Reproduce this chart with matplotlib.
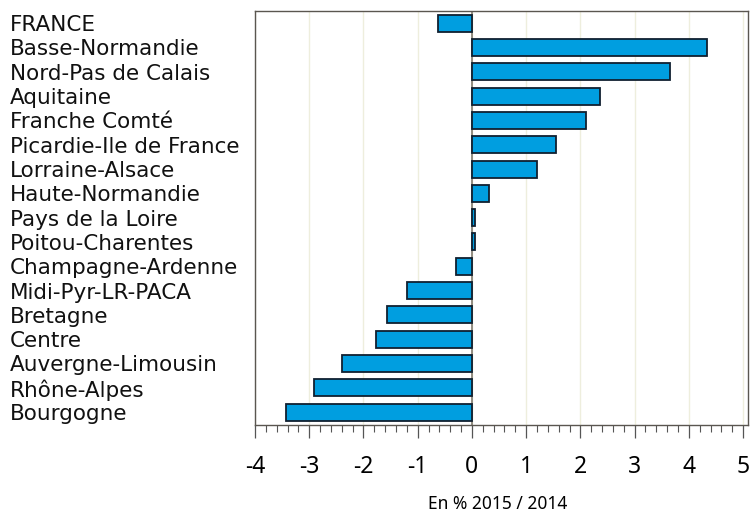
import matplotlib
matplotlib.use('Agg')
import matplotlib.pyplot as plt
import matplotlib.transforms as mtransforms
from matplotlib.ticker import MultipleLocator

plt.rcParams['font.family'] = ['Noto Sans', 'DejaVu Sans']

regions = ['FRANCE', 'Basse-Normandie', 'Nord-Pas de Calais', 'Aquitaine',
           'Franche Comté', 'Picardie-Ile de France', 'Lorraine-Alsace',
           'Haute-Normandie', 'Pays de la Loire', 'Poitou-Charentes',
           'Champagne-Ardenne', 'Midi-Pyr-LR-PACA', 'Bretagne', 'Centre',
           'Auvergne-Limousin', 'Rhône-Alpes', 'Bourgogne']
values = [-0.62, 4.33, 3.65, 2.37, 2.10, 1.55, 1.20, 0.31, 0.05, 0.05,
          -0.29, -1.20, -1.56, -1.76, -2.40, -2.91, -3.42]
xticks = [-4, -3, -2, -1, 0, 1, 2, 3, 4, 5]

fig = plt.figure(figsize=(7.5, 5.17), dpi=100)
ax = fig.add_axes([0.34, 0.178, 0.9973 - 0.34, 0.9787 - 0.178])

pos = list(range(len(regions)))
for x in xticks:
    ax.axvline(x, color='#eeeedd', lw=1, zorder=0)
ax.axvline(0, color='#8a8478', lw=1.3, zorder=1)
ax.barh(pos, values, height=0.7, color='#009ee0', edgecolor='#102030',
        linewidth=1.3, zorder=2)

ax.set_xlim(-4, 5.09)
ax.set_ylim(len(regions) - 0.47, -0.5)
ax.set_xticks(xticks)
ax.xaxis.set_minor_locator(MultipleLocator(0.2))
ax.set_xticklabels([str(x) for x in xticks], fontsize=16.5)
ax.tick_params(axis='x', which='major', length=9.5, width=0.9, color='#555555', pad=12)
ax.tick_params(axis='x', which='minor', length=5, width=0.8, color='#555555')
ax.set_yticks([])
for s in ax.spines.values():
    s.set_color('#5a5650')
    s.set_linewidth(1)

trans = mtransforms.blended_transform_factory(fig.transFigure, ax.transData)
for p, name in zip(pos, regions):
    ax.text(10 / 750, p, name, transform=trans, ha='left', va='center_baseline',
            fontsize=15.5, color='#111111', family='DejaVu Sans')

# x label sits at the very bottom edge
fig.text(0.663, 4 / 517, 'En % 2015 / 2014', ha='center', va='bottom', fontsize=12.5)

fig.savefig('out.png', dpi=100)
